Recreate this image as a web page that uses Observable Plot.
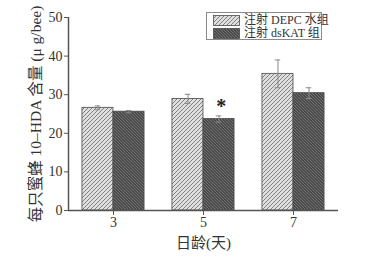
<!DOCTYPE html>
<html><head><meta charset="utf-8">
<script src="https://cdn.jsdelivr.net/npm/d3@7"></script>
<script src="https://cdn.jsdelivr.net/npm/@observablehq/plot@0.6"></script>
<style>
body{margin:0;background:#fff;}
#wrap{position:relative;width:376px;height:258px;overflow:hidden;}
#wrap g[aria-label="y-axis label"]{font-size:15.5px;}
#wrap g[aria-label="x-axis label"]{font-size:15px;}
#legend{position:absolute;left:206px;top:12px;width:114px;height:26px;border:1px solid #8a8a8a;background:#fff;
  font-family:"Liberation Serif","Noto Sans CJK SC",serif;font-size:12px;color:#333;line-height:12px;white-space:nowrap;}
#legend .row{position:absolute;left:6px;height:12px;line-height:12px;display:flex;align-items:center;overflow:visible;}
#legend svg{margin-right:4px;flex:none;}
</style></head><body>
<svg width="0" height="0" style="position:absolute">
 <defs>
  <pattern id="pDepc" patternUnits="userSpaceOnUse" width="4" height="4">
   <rect width="4" height="4" fill="#dedede"/>
   <path d="M-1,1 l2,-2 M0,4 l4,-4 M3,5 l2,-2" stroke="#777" stroke-width="0.9"/>
  </pattern>
  <pattern id="pKat" patternUnits="userSpaceOnUse" width="3" height="3">
   <rect width="3" height="3" fill="#4a4a4a"/>
   <path d="M-1,2 l2,2 M0,0 l3,3 M2,-1 l2,2" stroke="#858585" stroke-width="0.7"/>
  </pattern>
 </defs>
</svg>
<div id="wrap"></div>
<script>
const days = [3, 5, 7];
const groups = ["注射 DEPC 水组", "注射 dsKAT 组"];
const depcMean = [26.6, 28.9, 35.4];
const depcErr = [0.5, 1.2, 3.6];
const katMean = [25.6, 23.7, 30.4];
const katErr = [0.3, 0.8, 1.4];
const yTicks = [0, 10, 20, 30, 40, 50];
const sigDays = [5];
const yLabel = "每只蜜蜂 10–HDA 含量 (μ g/bee)";
const xLabel = "日龄(天)";

const bw = 0.69;
const fills = ["url(#pDepc)", "url(#pKat)"];
const rows = [];
days.forEach((d, i) => {
  rows.push({day: d, g: 0, mean: depcMean[i], err: depcErr[i], x1: d - bw, x2: d, c: d - bw / 2});
  rows.push({day: d, g: 1, mean: katMean[i], err: katErr[i], x1: d, x2: d + bw, c: d + bw / 2});
});
const sig = rows.filter(r => r.g === 1 && sigDays.includes(r.day));
const cap = 0.06;
const font = '"Liberation Serif","Noto Sans CJK SC",serif';

const chart = Plot.plot({
  width: 376, height: 258,
  marginLeft: 68, marginRight: 38, marginTop: 17, marginBottom: 48,
  style: {fontFamily: font, fontSize: "14px", color: "#333", background: "transparent", overflow: "visible"},
  x: {domain: [2, 8], axis: null},
  y: {domain: [0, 50], axis: null},
  marks: [
    ...[0, 1].map(g => Plot.rectY(rows.filter(r => r.g === g), {x1: "x1", x2: "x2", y1: 0, y2: "mean", fill: fills[g], stroke: "#4a4a4a", strokeWidth: 0.8})),
    Plot.ruleX(rows, {x: "c", y1: d => d.mean - d.err, y2: d => d.mean + d.err, stroke: "#8a8a8a", strokeWidth: 1}),
    Plot.ruleY(rows, {y: d => d.mean + d.err, x1: d => d.c - cap, x2: d => d.c + cap, stroke: "#8a8a8a", strokeWidth: 1}),
    Plot.ruleY(rows, {y: d => d.mean - d.err, x1: d => d.c - cap, x2: d => d.c + cap, stroke: "#8a8a8a", strokeWidth: 1}),
    Plot.text(sig, {x: d => d.c + 0.05, y: d => d.mean + d.err + 2.3, text: () => "*", fontSize: 20, fontWeight: "bold", fill: "#222"}),
    Plot.axisY({ticks: yTicks, tickSize: 4, tickPadding: 2, stroke: "#555", fontSize: 14, label: yLabel, labelAnchor: "center", labelArrow: "none", labelOffset: 39}),
    Plot.axisX({ticks: days, tickSize: 5, tickPadding: 2, stroke: "#555", fontSize: 14, tickFormat: d => String(d), label: xLabel, labelAnchor: "center", labelArrow: "none", labelOffset: 37}),
    Plot.ruleX([2], {stroke: "#555", strokeWidth: 1.5}),
    Plot.ruleY([0], {stroke: "#555", strokeWidth: 1.5})
  ]
});
const wrap = document.getElementById("wrap");
wrap.appendChild(chart);

const legend = document.createElement("div");
legend.id = "legend";
groups.forEach((name, g) => {
  const row = document.createElement("div");
  row.className = "row";
  row.style.top = (g === 0 ? 1 : 14) + "px";
  row.innerHTML = `<svg width="27" height="11"><rect x="0.5" y="0.5" width="26" height="10" fill="${fills[g]}" stroke="#4a4a4a" stroke-width="0.8"/></svg><span>${name}</span>`;
  legend.appendChild(row);
});
wrap.appendChild(legend);
</script>
</body></html>
